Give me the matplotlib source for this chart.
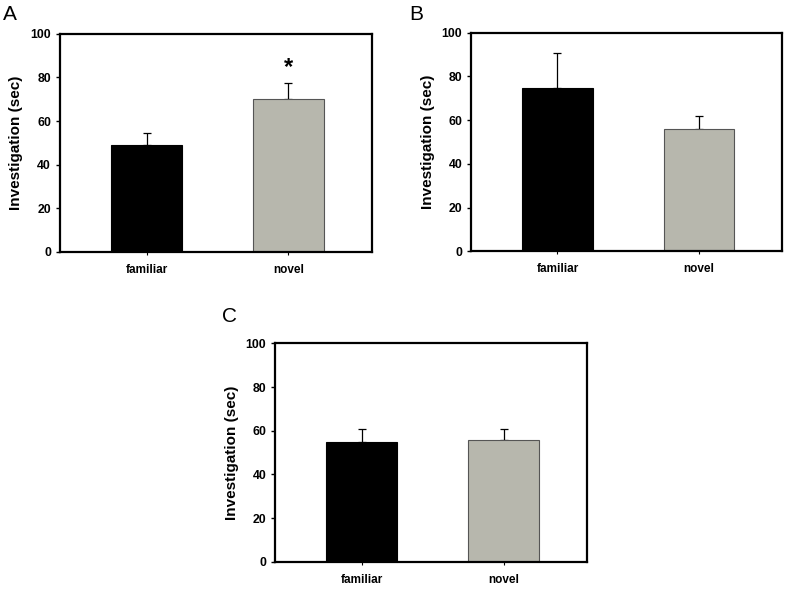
import numpy as np
import matplotlib
matplotlib.use("Agg")
import matplotlib.pyplot as plt

plt.rcParams['font.family'] = ['Liberation Sans', 'DejaVu Sans']

categories = ['familiar', 'novel']
means_a = [49, 70]
errs_a = [5.6, 7.4]
means_b = [74.5, 55.8]
errs_b = [16, 6]
means_c = [54.8, 56]
errs_c = [6.2, 5]
yticks = [0, 20, 40, 60, 80, 100]

bar_colors = ['#000000', '#b7b7ad']
edge_colors = ['#000000', '#555555']


def panel(ax, means, errs):
    x = np.arange(len(categories))
    ax.bar(x, means, width=0.5, color=bar_colors, edgecolor=edge_colors,
           linewidth=0.8, zorder=2)
    # upper error bars only
    ax.errorbar(x, means, yerr=[np.zeros(len(errs)), errs], fmt='none',
                ecolor='black', elinewidth=0.9, capsize=3, capthick=0.9,
                zorder=1)
    ax.set_xlim(-0.61, 1.59)
    ax.set_ylim(0, 100)
    ax.set_yticks(yticks)
    ax.set_xticks(x)
    ax.set_xticklabels(categories, fontsize=8.5, fontweight='bold')
    ax.tick_params(axis='y', labelsize=8.8, width=1, length=3, direction='out')
    for lab in ax.get_yticklabels():
        lab.set_fontweight('bold')
    ax.tick_params(axis='x', length=2.5, width=0.8, pad=6)
    for s in ax.spines.values():
        s.set_linewidth(1.6)
    ax.set_ylabel('Investigation (sec)', fontsize=11, fontweight='bold',
                  labelpad=5)


fig = plt.figure(figsize=(8, 5.94), dpi=100)
ax_a = fig.add_axes([0.075, 0.576, 0.39, 0.367])
ax_b = fig.add_axes([0.589, 0.577, 0.389, 0.368])
ax_c = fig.add_axes([0.344, 0.054, 0.39, 0.368])

panel(ax_a, means_a, errs_a)
panel(ax_b, means_b, errs_b)
panel(ax_c, means_c, errs_c)

# significance marker
ax_a.text(1, means_a[1] + errs_a[1] + 2, '*', ha='center', va='bottom',
          fontsize=17, fontweight='bold')

fig.text(0.004, 0.975, 'A', fontsize=15, va='center', ha='left')
fig.text(0.512, 0.975, 'B', fontsize=15, va='center', ha='left')
fig.text(0.278, 0.468, 'C', fontsize=15, va='center', ha='left')

fig.savefig('out.png', dpi=100)
